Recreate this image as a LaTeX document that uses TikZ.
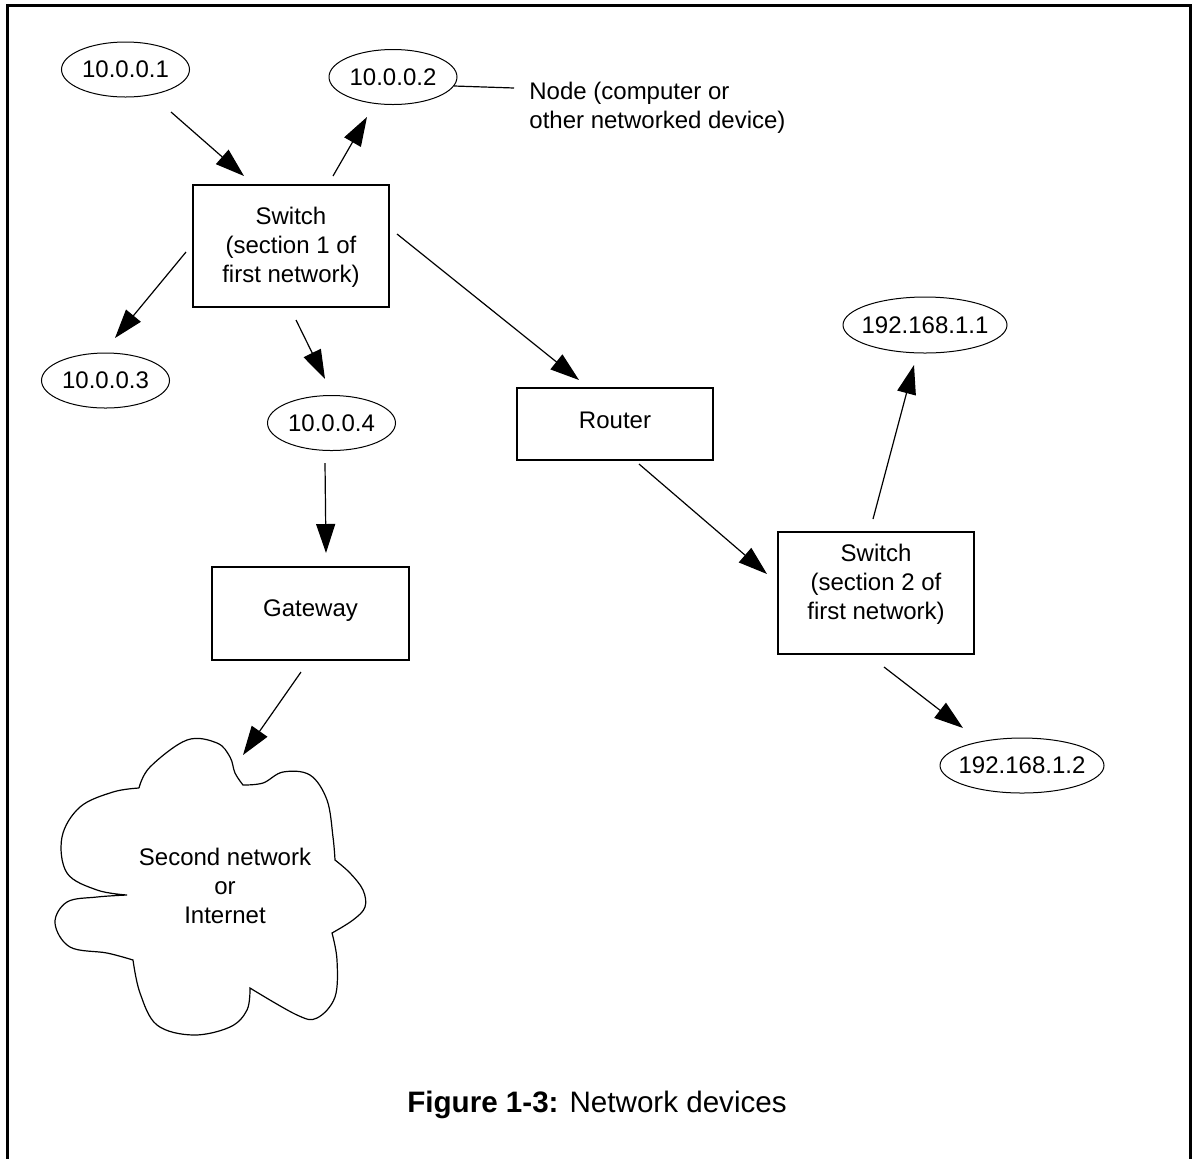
\documentclass[tikz,border=0pt]{standalone}
\usepackage{fontspec}
\setmainfont{Liberation Sans}
\usetikzlibrary{arrows.meta,shapes.geometric}
\begin{document}
\begin{tikzpicture}[x=0.5pt,y=-0.5pt,
  every node/.style={font=\fontsize{12}{14.4}\selectfont, inner sep=0pt},
  boxshape/.style={draw, line width=1pt, rectangle, minimum width=98pt},
  ipnode/.style={draw, line width=0.5pt, ellipse, inner xsep=-5pt, minimum width=64pt, minimum height=27.5pt},
  arr/.style={line width=0.6pt, -{Triangle[length=14.5pt,width=9.5pt]}},
  txt/.style={align=center},
  lbl/.style={align=left, anchor=north west}]
\useasboundingbox (0,0) rectangle (1192,1158);
% frame (open at bottom)
\draw[line width=1.5pt] (7.5,1162) -- (7.5,5.5) -- (1190.5,5.5) -- (1190.5,1162);

% address nodes
\node[ipnode] (e1) at (125.5,69.5) {10.0.0.1};
\node[ipnode] (e2) at (393,77) {10.0.0.2};
\node[ipnode] (e3) at (105.5,380.5) {10.0.0.3};
\node[ipnode] (e4) at (331.5,423) {10.0.0.4};
\node[ipnode, minimum width=82pt, minimum height=28pt] (e5) at (925,325) {192.168.1.1};
\node[ipnode, minimum width=82pt, minimum height=27.5pt] (e6) at (1022,765.5) {192.168.1.2};

% devices
\node[boxshape, minimum height=61pt] (sw1) at (291,246) {};
\node[txt] (sw1t) at (291,247) {Switch\\(section 1 of\\first network)};
\node[boxshape, minimum height=36pt] (rt) at (615,424) {};
\node[txt] (rtt) at (615,420) {Router};
\node[boxshape, minimum width=98.5pt, minimum height=46.5pt] (gw) at (310.5,613.5) {};
\node[txt] (gwt) at (310.5,610.5) {Gateway};
\node[boxshape, minimum height=61pt] (sw2) at (876,593) {};
\node[txt] (sw2t) at (876,584) {Switch\\(section 2 of\\first network)};

% annotation
\node[lbl] (note) at (529,82) {Node (computer or\\other networked device)};
\draw[line width=0.6pt] ([shift={(61,9)}]e2.center) -- ([shift={(-15,6)}]note.north west);

% cloud
\draw[line width=0.6pt]
  plot[smooth,tension=0.6] coordinates {(139,788) (150,767) (187,740) (217,743) (230,757) (235,773) (243,785)}
  -- plot[smooth,tension=0.6] coordinates {(243,785) (263,783) (283,772) (310,775) (327,800) (333,837) (335,860)}
  -- plot[smooth,tension=0.6] coordinates {(335,860) (350,873) (363,890) (365,907) (353,920) (332,933)}
  -- plot[smooth,tension=0.6] coordinates {(332,933) (337,960) (335,997) (317,1018) (297,1015) (250,988)}
  -- plot[smooth,tension=0.6] coordinates {(250,988) (247,1010) (230,1027) (193,1035) (157,1025) (140,993) (133,960)}
  -- plot[smooth,tension=0.6] coordinates {(133,960) (107,953) (70,947) (55,923) (67,902) (97,897) (127,895)}
  -- plot[smooth,tension=0.6] coordinates {(127,895) (97,890) (67,873) (62,837) (80,807) (113,792) (139,788)};
\node[txt] (cloudt) at (225,886) {Second network\\or\\Internet};
\coordinate (cloudtip) at (243,755);

% connectors
\draw[arr] ([shift={(45.5,42.5)}]e1.center) -- ([shift={(-47,-70)}]sw1.center);
\draw[arr] ([shift={(42,-70)}]sw1.center) -- ([shift={(-26,40)}]e2.center);
\draw[arr] ([shift={(-105,6)}]sw1.center) -- ([shift={(9.5,-42.5)}]e3.center);
\draw[arr] ([shift={(5,74)}]sw1.center) -- ([shift={(-6.5,-44)}]e4.center);
\draw[arr] ([shift={(-6.5,40)}]e4.center) -- ([shift={(15.5,-60.5)}]gw.center);
\draw[arr] ([shift={(-9.5,58.5)}]gw.center) -- (cloudtip);
\draw[arr] ([shift={(106,-12)}]sw1.center) -- ([shift={(-36,-44)}]rt.center);
\draw[arr] ([shift={(24,40)}]rt.center) -- ([shift={(-109,-19)}]sw2.center);
\draw[arr] ([shift={(-3,-74)}]sw2.center) -- ([shift={(-11,40)}]e5.center);
\draw[arr] ([shift={(8,74)}]sw2.center) -- ([shift={(-59,-37.5)}]e6.center);

% caption
\node (cap) at (597,1105) {\fontsize{14.8}{18}\selectfont\textbf{Figure 1-3:} Network devices};
\end{tikzpicture}
\end{document}
